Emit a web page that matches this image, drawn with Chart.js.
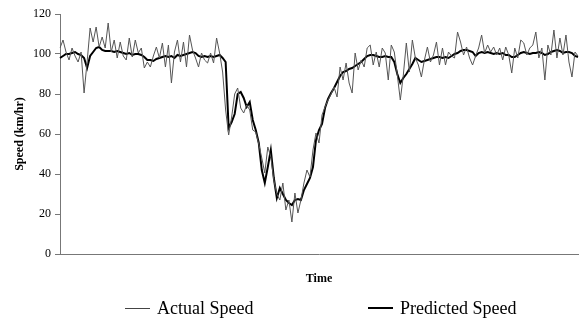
<!DOCTYPE html>
<html>
<head>
<meta charset="utf-8">
<script src="https://cdn.jsdelivr.net/npm/chart.js@4"></script>
<style>
  body { margin: 0; background: #fff; }
  #wrap { position: relative; width: 583px; height: 322px; }
  .legend { position: absolute; top: 297px; height: 22px; line-height: 22px;
            font-family: "Liberation Serif", "DejaVu Serif", serif; font-size: 18px; color: #000; }
  .legend i { position: absolute; top: 11px; width: 25px; }
</style>
</head>
<body>
<div id="wrap">
  <canvas id="speedChart" width="583" height="322"></canvas>
  <div class="legend" style="left:125px"><i style="left:0;border-top:1px solid #444"></i><span style="margin-left:32px">Actual Speed</span></div>
  <div class="legend" style="left:368px"><i style="left:0;border-top:2.5px solid #000;top:10px"></i><span style="margin-left:32px">Predicted Speed</span></div>
</div>
<script>
// Speed in km/hr, one reading per time step
const actualSpeed = [
  103, 107, 101, 97, 103, 99, 96, 101, 80.5, 96,
  113, 106, 113.5, 103.5, 108.5, 103, 115.5, 101, 107, 98,
  106, 99, 97, 108, 98.5, 107, 100.5, 103, 93, 96,
  93.5, 99, 103.5, 98, 105.5, 93.5, 104.5, 85.5, 101, 107,
  96, 106, 93.5, 109.5, 102, 98, 93.5, 100.5, 97, 95.5,
  100.5, 95.5, 108, 100.5, 91, 72, 59.5, 68.5, 80, 83,
  73, 70.5, 74.5, 72, 62, 61, 55, 48, 40.5, 53.5,
  48.5, 37, 30, 27, 35.5, 22, 27, 16, 30.5, 20.5,
  27, 35.5, 42, 38.5, 52, 60.5, 55.5, 69.5, 73.5, 77,
  80, 83.5, 78.5, 93.5, 87, 95.5, 85.5, 80.5, 100.5, 92,
  97, 93.5, 103, 104.5, 94.5, 101, 93.5, 103, 100.5, 87,
  104.5, 101, 89.5, 77, 89.5, 105.5, 91, 107, 98, 94.5,
  88.5, 97, 103.5, 96, 99.5, 106, 94.5, 103, 94.5, 101,
  99, 98, 111, 106, 99.5, 103.5, 98, 94.5, 99, 103,
  109.5, 100.5, 104.5, 101, 103.5, 99.5, 103, 97, 103.5, 99.5,
  90.5, 103, 98, 107, 105.5, 99.5, 103, 104.5, 111, 98,
  103, 87, 104.5, 99.5, 112, 98, 108, 99.5, 109.5, 96,
  88.5, 101, 99
];
const predictedSpeed = [
  98, 99, 100, 100, 100.5, 101, 100, 99.5, 98, 93,
  99, 101, 103, 103.5, 102, 101.5, 101.5, 101.5, 101, 101.5,
  101, 100.5, 100, 100.5, 99.5, 100, 100, 99.5, 98.5, 97,
  97, 96.5, 97.5, 98, 98.5, 99, 98.5, 99, 98, 99.5,
  99, 99.5, 100, 100.5, 101, 100.5, 99, 98.5, 99, 98.5,
  99, 98.5, 99, 99.5, 98, 96, 63, 66, 70, 80,
  81, 78, 73.5, 76, 67, 62, 55.5, 42, 35.5, 43.5,
  52, 38, 28, 33, 30, 27, 25.5, 24.5, 27, 27.5,
  27, 32, 35, 38, 43.5, 57, 62, 65, 73, 77.5,
  80.5, 83, 86, 89, 91, 91.5, 92.5, 93, 94, 95,
  96, 97.5, 99, 99.5, 99.5, 99, 98.5, 98.5, 99, 98.5,
  98.5, 96, 90, 85.5, 88, 90, 92.5, 95, 98, 97,
  96, 96.5, 97, 97.5, 98, 98.5, 98.5, 98, 98.5, 98,
  99, 100, 100.5, 101.5, 102, 102, 101.5, 101, 99, 100.5,
  101, 100.5, 101, 100.5, 100, 100.5, 100, 100.5, 99.5, 99.5,
  98.5, 98.5, 99.5, 100.5, 101, 100.5, 100, 100.5, 100.5, 101,
  100.5, 99.5, 100, 101, 101.5, 102, 101.5, 100.5, 101, 101,
  100.5, 99, 98.5
];
const timeSteps = actualSpeed.map((v, i) => i);
const yTicks = [0, 20, 40, 60, 80, 100, 120];

const serif = '"Liberation Serif", "DejaVu Serif", serif';

new Chart(document.getElementById('speedChart'), {
    type: 'line',
    data: {
        labels: timeSteps,
        datasets: [{
            label: 'Actual Speed',
            data: actualSpeed,
            borderColor: '#555',
            borderWidth: 1,
            pointRadius: 0,
            tension: 0
        }, {
            label: 'Predicted Speed',
            data: predictedSpeed,
            borderColor: '#000',
            borderWidth: 2,
            pointRadius: 0,
            tension: 0
        }]
    },
    options: {
        responsive: false,
        animation: false,
        layout: { padding: { top: 14, right: 5, bottom: 0, left: 0 } },
        plugins: {
            legend: { display: false },
            tooltip: { enabled: false }
        },
        scales: {
            x: {
                type: 'category',
                offset: false,
                ticks: { display: false },
                grid: { display: false },
                border: { display: true, color: '#777', width: 1 },
                title: {
                    display: true,
                    text: 'Time',
                    font: { family: serif, size: 12, weight: 'bold' },
                    color: '#000',
                    padding: { top: 0, bottom: 36 }
                },
                afterFit: scale => { scale.height = 68; }
            },
            y: {
                min: 0,
                max: 120,
                afterBuildTicks: scale => { scale.ticks = yTicks.map(v => ({ value: v })); },
                ticks: {
                    font: { family: serif, size: 12 },
                    color: '#000',
                    padding: 4
                },
                grid: { drawOnChartArea: false, drawTicks: true, tickLength: 5, color: '#777' },
                border: { display: true, color: '#777', width: 1 },
                title: {
                    display: true,
                    text: 'Speed (km/hr)',
                    font: { family: serif, size: 12, weight: 'bold' },
                    color: '#000',
                    padding: { top: 13, bottom: 0 }
                },
                afterFit: scale => { scale.width = 60; }
            }
        }
    }
});
</script>
</body>
</html>
